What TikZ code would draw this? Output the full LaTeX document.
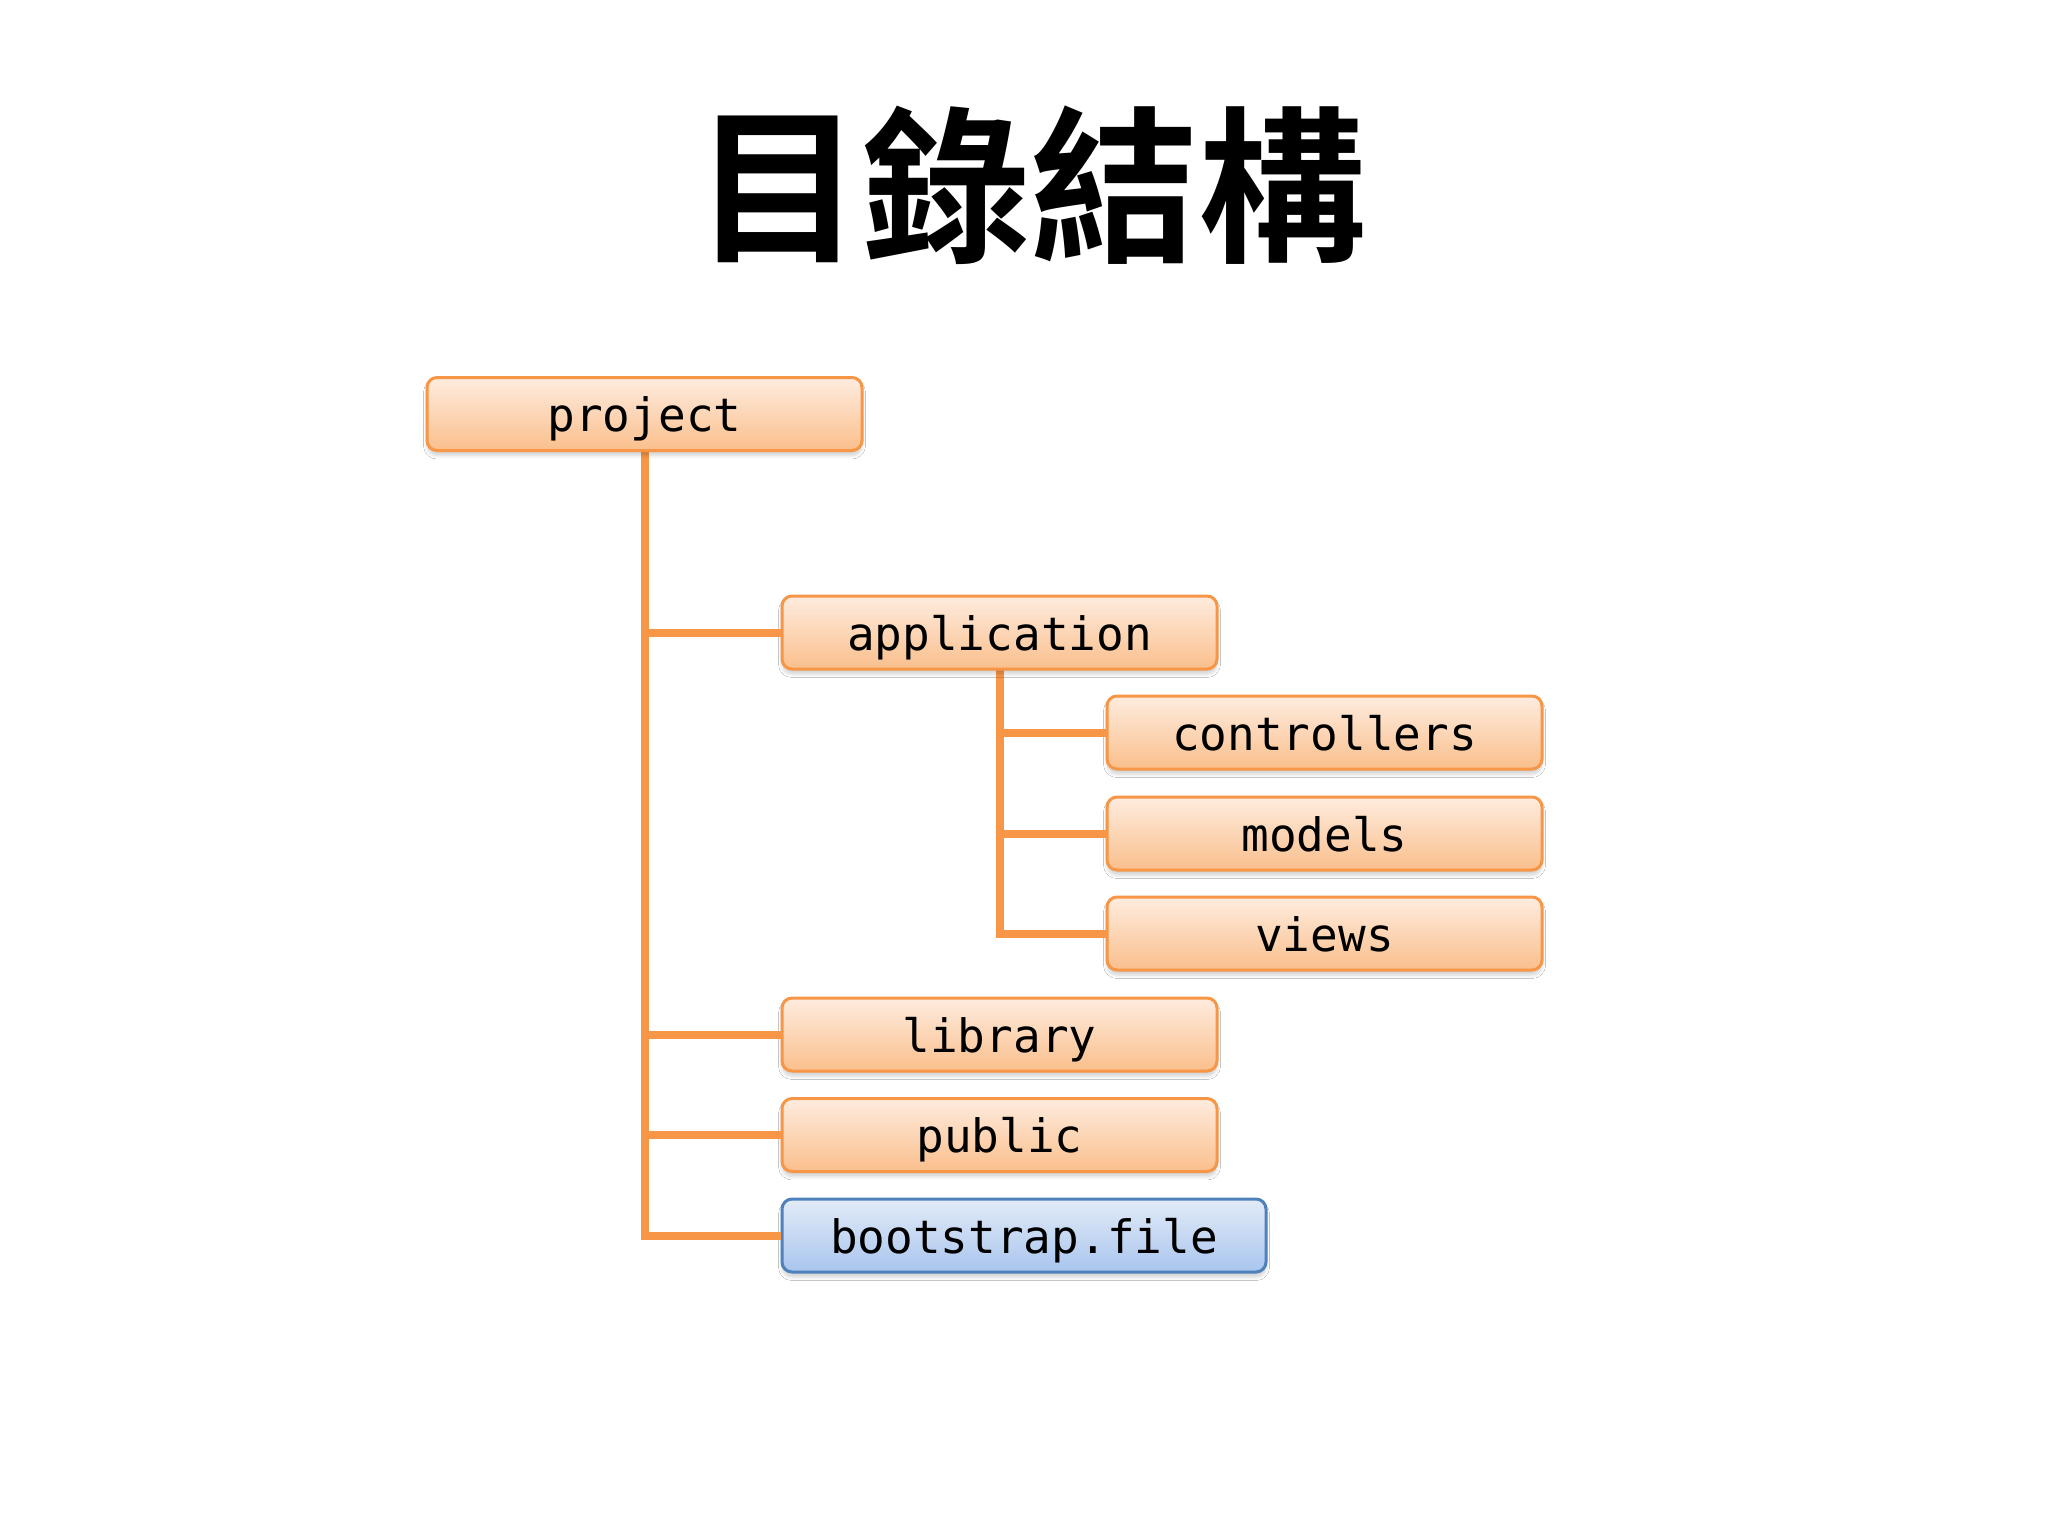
\documentclass[tikz,border=0pt]{standalone}
\usepackage{fontspec}
\newfontfamily\cjk{Noto Sans CJK TC}[BoldFont={Noto Sans CJK TC Bold}]
\newfontfamily\monofnt{DejaVu Sans Mono}
\usetikzlibrary{shadows.blur}
\definecolor{orline}{HTML}{F79646}
\definecolor{ortop}{HTML}{FEECDF}
\definecolor{orbot}{HTML}{FABF8C}
\definecolor{bltop}{HTML}{E2EBF7}
\definecolor{blbot}{HTML}{A9C5EE}
\definecolor{blline}{HTML}{4F81BD}
\tikzset{
  dirbox/.style={draw=orline, line width=1.5pt, rounded corners=5pt,
    top color=ortop, bottom color=orbot, minimum width=217.5pt, minimum height=36.5pt,
    inner sep=0pt, text height=20pt, text depth=2.5pt, font=\monofnt\fontsize{23}{23}\selectfont,
    blur shadow={shadow xshift=0pt, shadow yshift=-2.5pt, shadow opacity=18, shadow blur steps=6}},
  filebox/.style={dirbox, draw=blline, top color=bltop, bottom color=blbot, minimum width=242pt},
  conn/.style={draw=orline, line width=4pt}
}
\begin{document}
\begin{tikzpicture}[x=0.5pt,y=-0.5pt]
\useasboundingbox[fill=white] (0,0) rectangle (2048,1536);
\node[font=\cjk\bfseries\fontsize{84}{84}\selectfont, anchor=base, inner sep=0pt] (title) at (1030,249) {目錄結構};
% connectors first
\coordinate (pbot) at (644.5,451);
\coordinate (abot) at (999.5,669);
\draw[conn] (pbot) |- (1024,1235.5) coordinate (bend);
\draw[conn] (abot) |- (1324.5,933.5);
% nodes
\node[dirbox] (project) at (644.5,414) {project};
\node[dirbox] (application) at (999.5,632.5) {application};
\node[dirbox] (controllers) at (1324.5,732.5) {controllers};
\node[dirbox] (models) at (1324.5,833.5) {models};
\node[dirbox] (views) at (1324.5,933.5) {views};
\node[dirbox] (library) at (999.5,1034.5) {library};
\node[dirbox] (public) at (999.5,1135) {public};
\node[filebox] (bootstrap) at (1024,1235.5) {bootstrap.file};
% branches
\draw[conn] (project.south |- application.west) -- (application.west);
\draw[conn] (project.south |- library.west) -- (library.west);
\draw[conn] (project.south |- public.west) -- (public.west);
\draw[conn] (project.south |- bootstrap.west) -- (bootstrap.west);
\draw[conn] (application.south |- controllers.west) -- (controllers.west);
\draw[conn] (application.south |- models.west) -- (models.west);
\draw[conn] (application.south |- views.west) -- (views.west);
\end{tikzpicture}
\end{document}
